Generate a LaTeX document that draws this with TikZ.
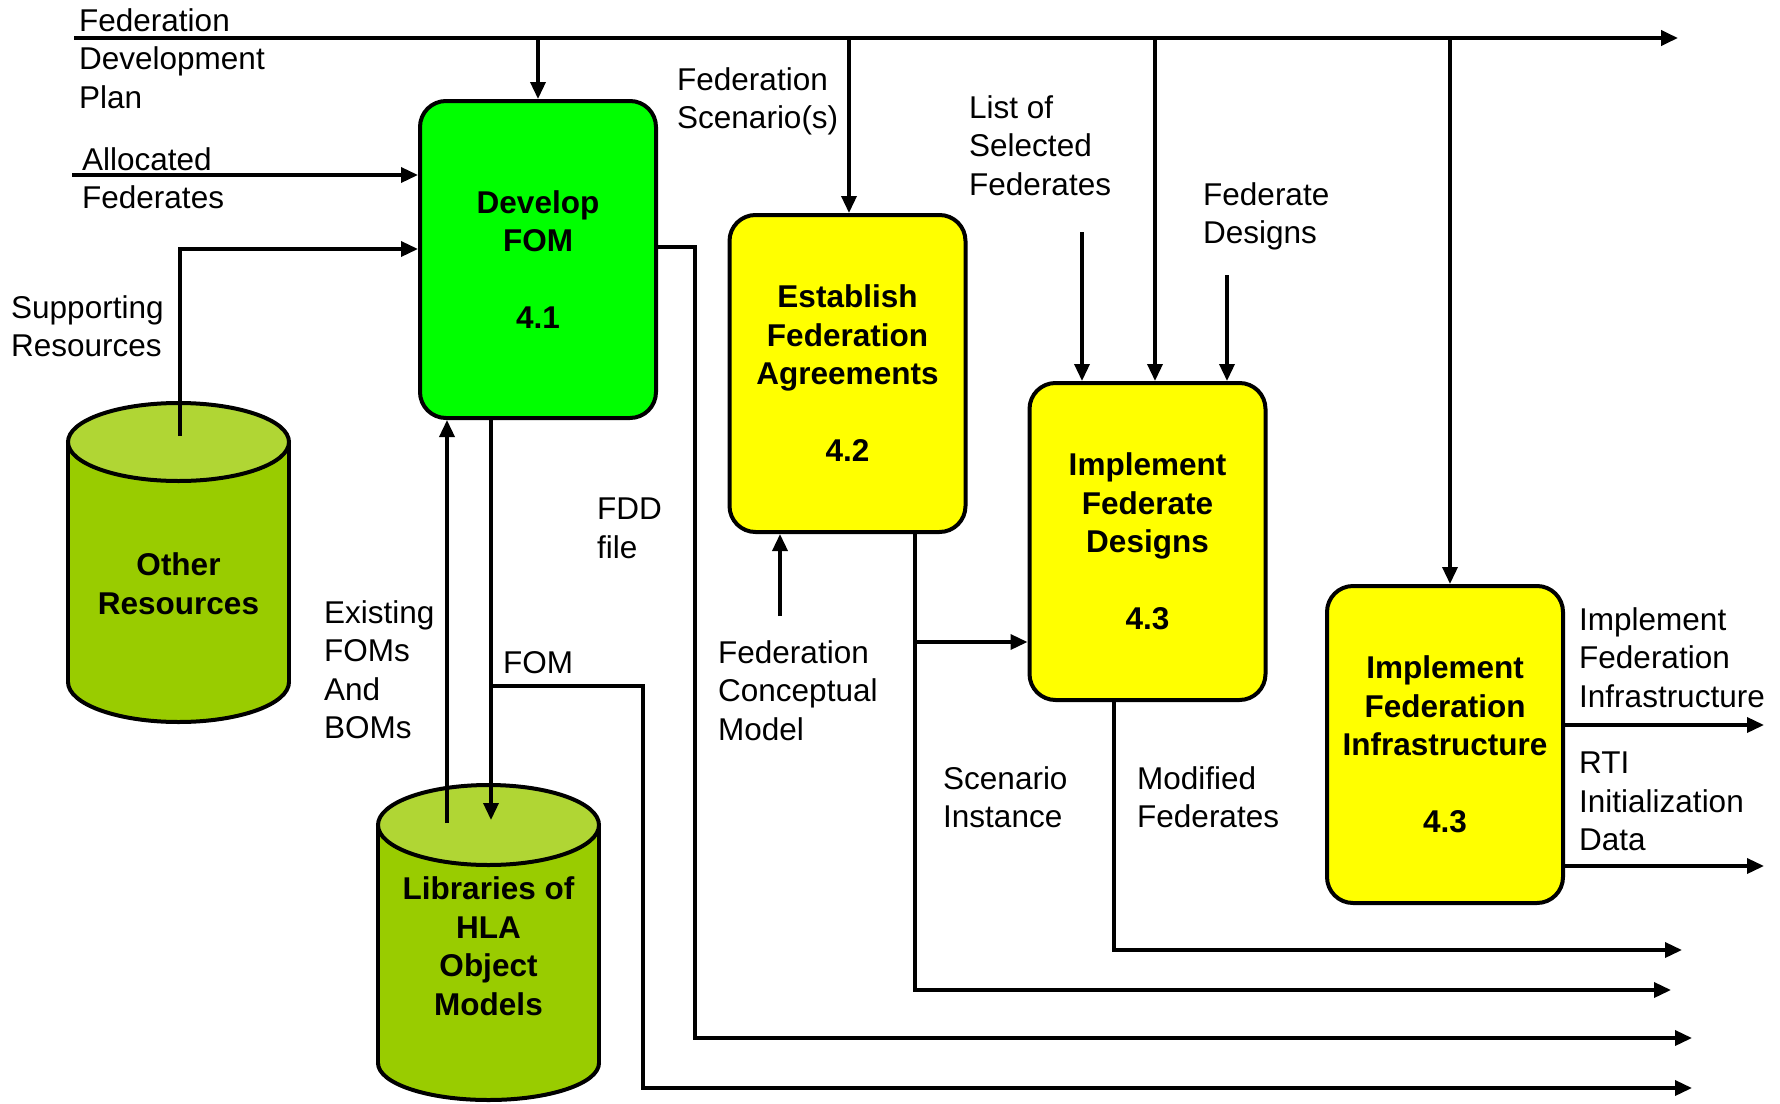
\documentclass[tikz,border=0pt]{standalone}
\usepackage{fontspec}
\setmainfont{Liberation Sans}
\usetikzlibrary{arrows.meta}
\definecolor{fomgreen}{HTML}{00FF00}
\definecolor{procyellow}{HTML}{FFFF00}
\definecolor{dbbody}{HTML}{99CC00}
\definecolor{dbtop}{HTML}{B0D634}
\newcommand\diagfont{\fontsize{31.5}{38.5}\selectfont}
\begin{document}
\begin{tikzpicture}[x=1pt,y=-1pt,
  procbox/.style={draw=black, line width=4pt, rounded corners=26pt,
    minimum width=236pt, minimum height=317pt, align=center,
    font=\diagfont\bfseries, inner sep=0pt},
  lbl/.style={anchor=north west, inner sep=0pt, align=left, font=\diagfont},
  dblbl/.style={align=center, inner sep=0pt, font=\diagfont\bfseries},
  flow/.style={line width=3.5pt, -{Triangle[length=17pt,width=15pt]}},
  cyledge/.style={draw=black, line width=4pt}
]
\useasboundingbox (0,0) rectangle (1780,1103);
\fill[white] (0,0) rectangle (1780,1103);

% ---------- data stores (cylinders) ----------
% Other Resources
\fill[dbbody] (68,442) rectangle (289,682);
\fill[dbbody] (178.5,682) ellipse[x radius=110.5, y radius=40];
\begin{scope}
  \clip (55,682) rectangle (305,735);
  \draw[cyledge] (178.5,682) ellipse[x radius=110.5, y radius=40];
\end{scope}
\draw[cyledge] (68,442) -- (68,682) (289,442) -- (289,682);
\filldraw[fill=dbtop, cyledge] (178.5,442) ellipse[x radius=110.5, y radius=39];
\node[dblbl] (othr) at (178.5,583.5) {Other\\Resources};

% Libraries of HLA Object Models
\fill[dbbody] (378,825) rectangle (599,1063);
\fill[dbbody] (488.5,1063) ellipse[x radius=110.5, y radius=37];
\begin{scope}
  \clip (365,1063) rectangle (615,1110);
  \draw[cyledge] (488.5,1063) ellipse[x radius=110.5, y radius=37];
\end{scope}
\draw[cyledge] (378,825) -- (378,1063) (599,825) -- (599,1063);
\filldraw[fill=dbtop, cyledge] (488.5,825) ellipse[x radius=110.5, y radius=40];
\node[dblbl] (libs) at (488.5,946) {Libraries of\\HLA\\Object\\Models};

% ---------- process boxes ----------
\node[procbox, fill=fomgreen] (fom) at (538,259.5) {Develop\\FOM\\[38.5pt]4.1};
\node[procbox, fill=procyellow] (est) at (847.5,373.5) {Establish\\Federation\\Agreements\\[38.5pt]4.2};
\node[procbox, fill=procyellow] (ifd) at (1147.5,541.5) {Implement\\Federate\\Designs\\[38.5pt]4.3};
\node[procbox, fill=procyellow] (ifi) at (1445,744.5) {Implement\\Federation\\Infrastructure\\[38.5pt]4.3};

% ---------- junction and end points ----------
\coordinate (topL) at (74,38);
\coordinate (topR) at (1678,38);
\coordinate (sEst) at (849,0);
\coordinate (lsfTop) at (1082,232);
\coordinate (sIfd) at (1155,0);
\coordinate (fdTop) at (1227,275);
\coordinate (sIfi) at (1450,0);
\coordinate (afL) at (72,175);
\coordinate (srB) at (180,436);
\coordinate (srT) at (180,249);
\coordinate (exB) at (447,823);
\coordinate (fomD) at (491,820);
\coordinate (fomJ) at (491,686);
\coordinate (fomK) at (643,686);
\coordinate (fomE) at (1692,1088);
\coordinate (fddK) at (695,247);
\coordinate (fddE) at (1692,1038);
\coordinate (fcmB) at (780,616);
\coordinate (siK) at (915,0);
\coordinate (siJ) at (915,642);
\coordinate (siE) at (1671,990);
\coordinate (mfK) at (1114,0);
\coordinate (mfE) at (1682,950);
\coordinate (ifiO1) at (1764,725);
\coordinate (ifiO2) at (1764,866);

% ---------- connectors ----------
\draw[flow, line width=4pt] (topL) -- (topR);
\draw[flow] (topL -| fom.north) -- (fom.north);
\draw[flow] (topL -| sEst) -- (est.north -| sEst);
\draw[flow] (lsfTop) -- (lsfTop |- ifd.north);
\draw[flow] (topL -| sIfd) -- (ifd.north -| sIfd);
\draw[flow] (fdTop) -- (fdTop |- ifd.north);
\draw[flow] (topL -| sIfi) -- (ifi.north -| sIfi);

\draw[flow] (afL) -- (afL -| fom.west);
\draw[flow] (srB) -- (srT) -- (srT -| fom.west);
\draw[flow] (exB) -- (exB |- fom.south);
\draw[flow] (fomD |- fom.south) -- (fomD);
\draw[flow] (fomJ) -- (fomK) -- (fomK |- fomE) -- (fomE);
\draw[flow] (fddK -| fom.east) -- (fddK) -- (fddK |- fddE) -- (fddE);

\draw[flow] (fcmB) -- (fcmB |- est.south);
\draw[flow] (siK |- est.south) -- (siK |- siE) -- (siE);
\draw[flow] (siJ) -- (siJ -| ifd.west);
\draw[flow] (mfK |- ifd.south) -- (mfK |- mfE) -- (mfE);
\draw[flow] (ifiO1 -| ifi.east) -- (ifiO1);
\draw[flow] (ifiO2 -| ifi.east) -- (ifiO2);

% ---------- flow labels ----------
\node[lbl] (lDFP) at (79,8) {Federation\\Development\\Plan};
\node[lbl] (lAF) at (82,147) {Allocated\\Federates};
\node[lbl] (lSR) at (11,295) {Supporting\\Resources};
\node[lbl] (lFS) at (677,67) {Federation\\Scenario(s)};
\node[lbl] (lLSF) at (969,95) {List of\\Selected\\Federates};
\node[lbl] (lFD) at (1203,182) {Federate\\Designs};
\node[lbl] (lFDD) at (597,498) {FDD\\file};
\node[lbl] (lEx) at (324,600) {Existing\\FOMs\\And\\BOMs};
\node[lbl] (lFOM) at (503,651) {FOM};
\node[lbl] (lFCM) at (718,640) {Federation\\Conceptual\\Model};
\node[lbl] (lSI) at (943,766) {Scenario\\Instance};
\node[lbl] (lMF) at (1137,766) {Modified\\Federates};
\node[lbl] (lIFI) at (1579,607) {Implement\\Federation\\Infrastructure};
\node[lbl] (lRTI) at (1579,752) {RTI\\Initialization\\Data};
\end{tikzpicture}
\end{document}
